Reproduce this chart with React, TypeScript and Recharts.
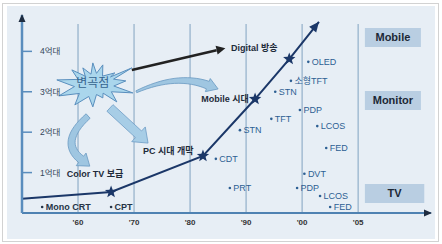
import { ComposedChart, Line, Scatter, XAxis, YAxis, ReferenceLine, ReferenceDot, ReferenceArea } from 'recharts'

const FONT = "'Liberation Sans', Arial, 'Noto Sans CJK KR', sans-serif"

// x = decade slot ('60 = 1 ... '05 = 6), y = 억대 units
const xDomain = [0, 7.3]
const yDomain = [0, 4.9]
const yearTicks = [1, 2, 3, 4, 5, 6]
const yearLabels = ["'60", "'70", "'80", "'90", "'00", "'05"]
const unitTicks = [1, 2, 3, 4]
const unitLabels = ['1억대', '2억대', '3억대', '4억대']

const trendX = [0, 1.59, 3.23, 4.16, 4.77, 5.3]
const trendY = [0.35, 0.52, 1.41, 2.82, 3.81, 4.73]
const trendStar = [false, true, true, true, true, false]

const techNames = ['Mono CRT', 'CPT', 'PRT', 'PDP', 'LCOS', 'FED', 'DVT', 'FED', 'LCOS', 'STN', 'CDT', 'TFT', 'STN', 'PDP', '소형TFT', 'OLED']
const techX = [0.36, 1.59, 3.71, 4.91, 5.32, 5.5, 5.04, 5.43, 5.27, 3.89, 3.46, 4.45, 4.52, 4.96, 4.8, 5.11]
const techY = [0.15, 0.15, 0.62, 0.62, 0.42, 0.15, 0.97, 1.61, 2.15, 2.05, 1.34, 2.33, 3.0, 2.55, 3.27, 3.74]
const techDark = [true, true, false, false, false, false, false, false, false, false, false, false, false, false, false, false]

const eventNames = ['Digital 방송', 'Mobile 시대', 'PC 시대 개막', 'Color TV 보급']
const eventX = [3.73, 3.2, 2.16, 0.8]
const eventY = [4.08, 2.82, 1.54, 0.97]

const marketNames = ['Mobile', 'Monitor', 'TV']
const marketX1 = [6.12, 6.12, 6.12]
const marketX2 = [7.12, 7.12, 7.18]
const marketY1 = [4.11, 2.55, 0.25]
const marketY2 = [4.58, 3.02, 0.72]

const burstLabel = '변곡점'
const burstX = 1.3
const burstY = 3.17

// callouts: digital arrow, PC arrow, mobile curve, color TV curve
const calloutFromX = [1.96, 1.57, 2.04, 1.18]
const calloutFromY = [3.54, 2.6, 3.0, 2.4]
const calloutToX = [3.63, 2.25, 3.5, 1.21]
const calloutToY = [4.08, 1.73, 3.07, 1.16]

const trendData = trendX.map((x, i) => ({ x, y: trendY[i] }))
const techData = techNames.map((name, i) => ({ name, x: techX[i], y: techY[i], dark: techDark[i] }))
const eventData = eventNames.map((name, i) => ({ name, x: eventX[i], y: eventY[i] }))

const starPoints = (cx: number, cy: number, r: number) => {
  const pts: string[] = []
  for (let i = 0; i < 10; i++) {
    const a = -Math.PI / 2 + (i * Math.PI) / 5
    const rr = i % 2 === 0 ? r : r * 0.42
    pts.push(`${cx + rr * Math.cos(a)},${cy + rr * Math.sin(a)}`)
  }
  return pts.join(' ')
}

function TrendDot(props: any) {
  const { cx, cy, index } = props
  if (!trendStar[index]) return <g key={`d${index}`} />
  return <polygon key={`d${index}`} points={starPoints(cx, cy, 6.5)} fill="#1b3768" />
}

const headPts = (x1: number, y1: number, x2: number, y2: number, len: number, half: number) => {
  const a = Math.atan2(y2 - y1, x2 - x1)
  const bx = x2 - len * Math.cos(a)
  const by = y2 - len * Math.sin(a)
  const nx = -Math.sin(a) * half
  const ny = Math.cos(a) * half
  return { pts: `${x2},${y2} ${bx + nx},${by + ny} ${bx - nx},${by - ny}`, bx, by }
}

const trendHead = (p: any) => {
  const h = headPts(p.x1, p.y1, p.x2, p.y2, 10, 4.5)
  return <polygon points={h.pts} fill="#1b3768" />
}

const darkArrow = (p: any) => {
  const h = headPts(p.x1, p.y1, p.x2, p.y2, 9, 4.5)
  return (
    <g>
      <line x1={p.x1} y1={p.y1} x2={h.bx} y2={h.by} stroke="#222" strokeWidth={2.5} />
      <polygon points={h.pts} fill="#222" />
    </g>
  )
}

const blockArrow = (p: any) => {
  const dx = p.x2 - p.x1
  const dy = p.y2 - p.y1
  const L = Math.hypot(dx, dy)
  const ux = dx / L
  const uy = dy / L
  const local = [[0, -4.5], [L - 13, -4.5], [L - 13, -10], [L, 0], [L - 13, 10], [L - 13, 4.5], [0, 4.5]]
  const pts = local.map(([s, n]) => `${p.x1 + ux * s - uy * n},${p.y1 + uy * s + ux * n}`).join(' ')
  return <polygon points={pts} fill="#a7cde6" stroke="#6d9cc5" strokeWidth={0.8} />
}

const curvedArrow = (bend: number, w0: number, w1: number, hw: number) => (p: any) => {
  const S = [p.x1, p.y1]
  const T = [p.x2, p.y2]
  const dx = T[0] - S[0]
  const dy = T[1] - S[1]
  const L = Math.hypot(dx, dy)
  const C = [(S[0] + T[0]) / 2 + (dy / L) * bend, (S[1] + T[1]) / 2 - (dx / L) * bend]
  const tl = Math.hypot(T[0] - C[0], T[1] - C[1])
  const tx = (T[0] - C[0]) / tl
  const ty = (T[1] - C[1]) / tl
  const B = [T[0] - tx * 11, T[1] - ty * 11]
  const left: string[] = []
  const right: string[] = []
  const n = 16
  for (let i = 0; i <= n; i++) {
    const t = i / n
    const px = (1 - t) * (1 - t) * S[0] + 2 * (1 - t) * t * C[0] + t * t * B[0]
    const py = (1 - t) * (1 - t) * S[1] + 2 * (1 - t) * t * C[1] + t * t * B[1]
    const ddx = 2 * (1 - t) * (C[0] - S[0]) + 2 * t * (B[0] - C[0])
    const ddy = 2 * (1 - t) * (C[1] - S[1]) + 2 * t * (B[1] - C[1])
    const dl = Math.hypot(ddx, ddy)
    const mx = -ddy / dl
    const my = ddx / dl
    const w = w0 + (w1 - w0) * t
    left.push(`${px + mx * w},${py + my * w}`)
    right.unshift(`${px - mx * w},${py - my * w}`)
  }
  const mx = -ty
  const my = tx
  const head = [`${B[0] + mx * hw},${B[1] + my * hw}`, `${T[0]},${T[1]}`, `${B[0] - mx * hw},${B[1] - my * hw}`]
  const pts = [...left, head[0], head[1], head[2], ...right].join(' ')
  return <polygon points={pts} fill="#9fc6e1" stroke="#6a99c2" strokeWidth={0.8} />
}

const calloutShapes = [darkArrow, blockArrow, curvedArrow(17, 1, 4, 7), curvedArrow(-30, 3, 4, 8)]

const burstOuter = [[-38, -5], [-23, -15], [-12, -17], [-2, -22], [8, -20], [20, -12], [37, -17], [31, -4], [38, 8], [22, 17], [8, 13], [-2, 22], [-20, 20], [-36, 11]]

const BurstShape = (p: any) => {
  const { cx, cy } = p
  const pts: string[] = []
  burstOuter.forEach(([x, y], i) => {
    const [nx, ny] = burstOuter[(i + 1) % burstOuter.length]
    pts.push(`${cx + x},${cy + y}`)
    pts.push(`${cx + ((x + nx) / 2) * 0.55},${cy + ((y + ny) / 2) * 0.55}`)
  })
  return (
    <g>
      <polygon points={pts.join(' ')} fill="#aad6ec" stroke="#5a8fbe" strokeWidth={1} />
      <text x={cx - 2} y={cy - 2} dy="0.35em" textAnchor="middle" fontSize={12} fontFamily={FONT}
        fill="#36648f">{burstLabel}</text>
    </g>
  )
}

const TechLabel = (p: any) => {
  const { cx, cy, payload } = p
  const color = payload.dark ? '#253446' : '#2d5f93'
  return (
    <g>
      <circle cx={cx} cy={cy} r={1.3} fill={color} />
      <text x={cx + 3.5} y={cy} dy="0.35em" fontSize={9} fontWeight={payload.dark ? 700 : 400}
        fontFamily={FONT} fill={color}>{payload.name}</text>
    </g>
  )
}

const EventLabel = (p: any) => {
  const { cx, cy, payload } = p
  return (
    <text x={cx} y={cy} dy="0.35em" fontSize={9} fontWeight={700} fontFamily={FONT} fill="#1e2b3a">
      {payload.name}
    </text>
  )
}

const upHead = (p: any) => (
  <polygon points={`${p.cx},${p.cy - 1} ${p.cx - 3.5},${p.cy + 7} ${p.cx + 3.5},${p.cy + 7}`} fill="#1e2c40" />
)
const rightHead = (p: any) => (
  <polygon points={`${p.cx + 1},${p.cy} ${p.cx - 7},${p.cy - 3.5} ${p.cx - 7},${p.cy + 3.5}`} fill="#1e2c40" />
)

export default function App() {
  return (
    <div style={{ position: 'absolute', left: 0, top: 0, width: 442, height: 244, background: '#fff' }}>
      <div style={{ position: 'absolute', left: 2, top: 3, width: 437, height: 239, border: '1px solid #d2d2d2', boxSizing: 'border-box' }} />
      <div style={{ position: 'absolute', left: 7, top: 6, width: 428, height: 233, background: '#e7eef5' }} />
      <div style={{ position: 'absolute', left: 0, top: 0 }}>
        <ComposedChart width={442} height={244} margin={{ top: 15, right: 11, bottom: 11, left: 22 }}>
          <XAxis
            type="number"
            dataKey="x"
            domain={xDomain}
            ticks={yearTicks}
            interval={0}
            height={20}
            tickFormatter={(v: number) => yearLabels[yearTicks.indexOf(v)] ?? ''}
            tickLine={false}
            tickSize={0}
            tickMargin={6}
            axisLine={{ stroke: '#4f82b2', strokeWidth: 2 }}
            tick={{ fill: '#333', fontSize: 8, fontWeight: 700, fontFamily: FONT }}
            allowDataOverflow
          />
          <YAxis
            type="number"
            dataKey="y"
            domain={yDomain}
            ticks={unitTicks}
            interval={0}
            mirror
            width={40}
            tickFormatter={(v: number) => unitLabels[unitTicks.indexOf(v)] ?? ''}
            tickSize={10}
            tickMargin={8}
            tickLine={{ stroke: '#5a8dbd', strokeWidth: 1.5 }}
            axisLine={{ stroke: '#5a8dbd', strokeWidth: 2.5 }}
            tick={{ fill: '#34465a', fontSize: 8.5, fontFamily: FONT }}
            allowDataOverflow
          />
          {yearTicks.map((t) => (
            <ReferenceLine key={`g${t}`} segment={[{ x: t, y: 0 }, { x: t, y: 4.68 }]} stroke="#a3bcd2" strokeWidth={1.5} />
          ))}
          {marketNames.map((name, i) => (
            <ReferenceArea
              key={name}
              x1={marketX1[i]}
              x2={marketX2[i]}
              y1={marketY1[i]}
              y2={marketY2[i]}
              fill="#b9cee2"
              fillOpacity={1}
              stroke="none"
              label={{ value: name, position: 'center', fill: '#1c2836', fontSize: 11, fontWeight: 700, fontFamily: FONT }}
            />
          ))}
          {calloutShapes.map((shape, i) => (
            <ReferenceLine
              key={`c${i}`}
              segment={[{ x: calloutFromX[i], y: calloutFromY[i] }, { x: calloutToX[i], y: calloutToY[i] }]}
              shape={shape}
            />
          ))}
          <ReferenceDot x={burstX} y={burstY} shape={BurstShape} />
          <Line
            data={trendData}
            dataKey="y"
            type="linear"
            stroke="#1b3768"
            strokeWidth={2}
            dot={TrendDot}
            activeDot={false}
            isAnimationActive={false}
          />
          <ReferenceLine
            segment={[{ x: trendX[4], y: trendY[4] }, { x: trendX[5], y: trendY[5] }]}
            shape={trendHead}
          />
          <Scatter data={techData} dataKey="y" shape={TechLabel} isAnimationActive={false} />
          <Scatter data={eventData} dataKey="y" shape={EventLabel} isAnimationActive={false} />
          <ReferenceDot x={xDomain[0]} y={yDomain[1]} shape={upHead} ifOverflow="visible" />
          <ReferenceDot x={xDomain[1]} y={yDomain[0]} shape={rightHead} ifOverflow="visible" />
        </ComposedChart>
      </div>
    </div>
  )
}
